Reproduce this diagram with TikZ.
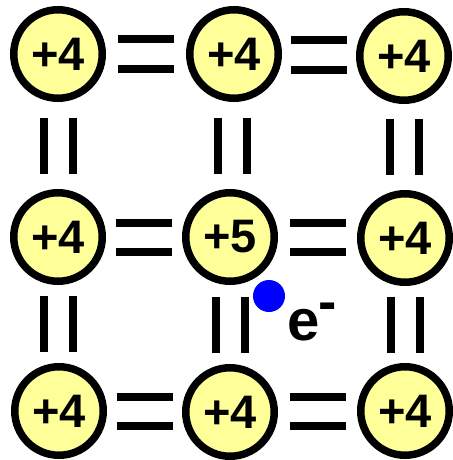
\documentclass[tikz,border=0pt]{standalone}
\usepackage{fontspec}
\setmainfont{Liberation Sans}
\usetikzlibrary{calc}
\definecolor{atomfill}{RGB}{255,255,153}
\definecolor{eblue}{RGB}{0,0,255}
\tikzset{
  atom/.style={circle, draw=black, line width=7.5pt, fill=atomfill, minimum size=88.5pt, inner sep=0pt,
    font=\fontsize{47}{47}\selectfont\bfseries},
  bond/.style={line width=8pt, line cap=butt, black},
  electron/.style={circle, fill=eblue, minimum size=32pt, inner sep=0pt}
}
\newcommand\hbond[2]{%
  \draw[bond] ($(#1)!0.5!(#2)+(-28,-14.5)$) -- ($(#1)!0.5!(#2)+(28,-14.5)$);
  \draw[bond] ($(#1)!0.5!(#2)+(-28,14.5)$) -- ($(#1)!0.5!(#2)+(28,14.5)$);}
\newcommand\vbond[2]{%
  \draw[bond] ($(#1)!0.5!(#2)+(-14.5,-28)$) -- ($(#1)!0.5!(#2)+(-14.5,28)$);
  \draw[bond] ($(#1)!0.5!(#2)+(14.5,-28)$) -- ($(#1)!0.5!(#2)+(14.5,28)$);}
\begin{document}
\begin{tikzpicture}[x=1pt,y=-1pt]
\useasboundingbox (0,0) rectangle (452,460);
\node[atom] (a11) at (58,54) {+4};
\node[atom] (a12) at (234,54) {+4};
\node[atom] (a13) at (404,56) {+4};
\node[atom] (a21) at (58,237) {+4};
\node[atom] (a22) at (230,237) {+5};
\node[atom] (a23) at (405,238) {+4};
\node[atom] (a31) at (59,411) {+4};
\node[atom] (a32) at (230,412) {+4};
\node[atom] (a33) at (405,411) {+4};
\hbond{a11}{a12}
\hbond{a12}{a13}
\hbond{a21}{a22}
\hbond{a22}{a23}
\hbond{a31}{a32}
\hbond{a32}{a33}
\vbond{a11}{a21}
\vbond{a12}{a22}
\vbond{a13}{a23}
\vbond{a21}{a31}
\vbond{a22}{a32}
\vbond{a23}{a33}
\node[electron] (el) at (269,296) {};
\node[anchor=base west, inner sep=0pt, font=\fontsize{58}{58}\selectfont\bfseries] (elabel) at (287,340)
  {e\kern-1pt\raisebox{20pt}{\fontsize{55}{55}\selectfont -}};
\end{tikzpicture}
\end{document}
